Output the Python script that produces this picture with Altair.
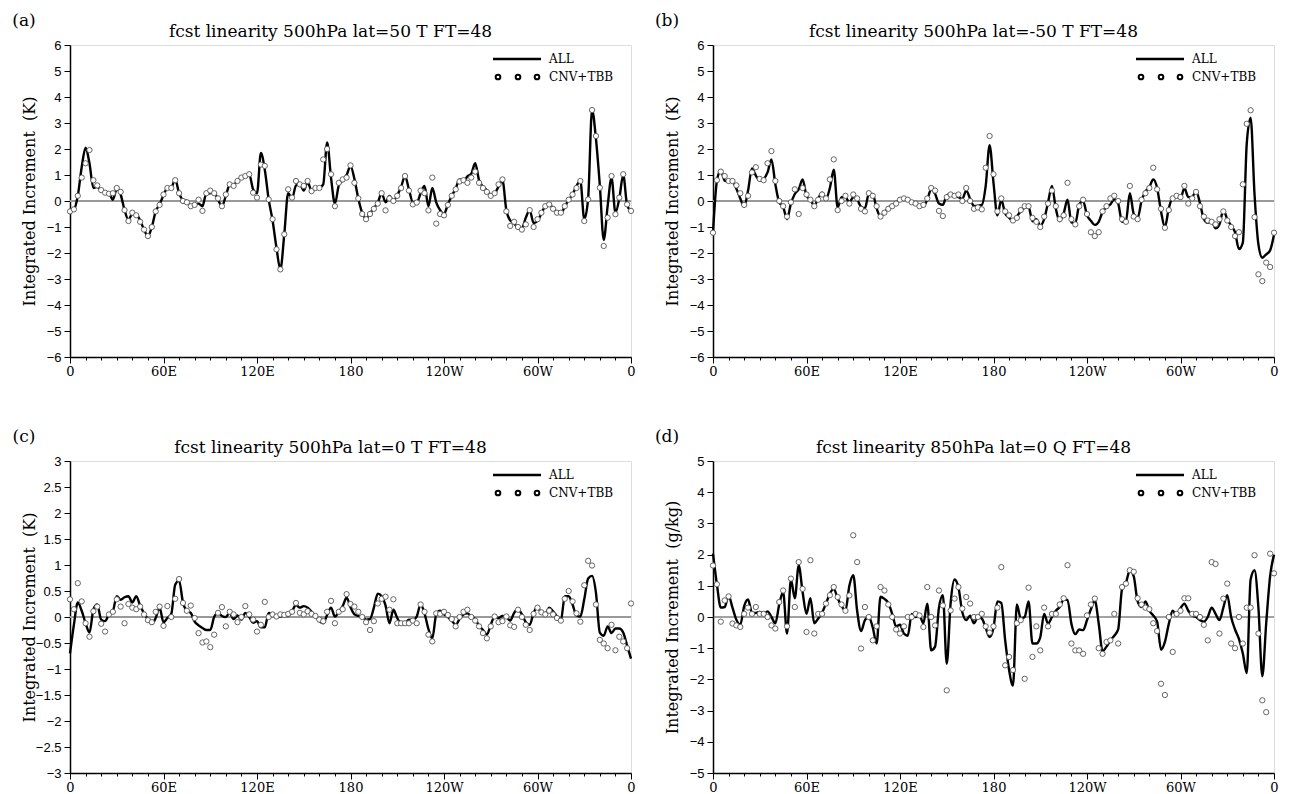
import altair as alt
import pandas as pd

LON = [i * 2.5 for i in range(145)]

A_ALL = [-0.38, -0.33, 0.2, 1.3, 2.05, 1.45, 0.5, 0.55, 0.4, 0.32,
         0.3, 0.05, 0.45, 0.25, -0.35, -0.72, -0.5, -0.52, -0.75, -1.1,
         -1.35, -1.0, -0.4, -0.13, 0.22, 0.5, 0.52, 0.83, 0.3, 0.05,
         0.0, -0.18, -0.14, -0.1, -0.2, 0.3, 0.3, 0.32, 0.05, -0.2,
         0.2, 0.62, 0.62, 0.8, 0.9, 0.95, 1.03, 0.45, 0.3, 1.85,
         1.2, 0.06, -0.75, -1.8, -2.63, -1.28, 0.3, 0.1, 0.6, 0.65,
         0.4, 0.72, 0.4, 0.45, 0.5, 0.64, 2.25, 0.9, -0.1, 0.6,
         0.8, 1.0, 1.35, 0.85, 0.1, -0.45, -0.68, -0.47, -0.28, -0.06,
         0.3, -0.05, 0.19, 0.02, 0.22, 0.55, 0.95, 0.45, -0.05, -0.06,
         0.3, 0.58, -0.2, 0.5, -0.05, -0.35, -0.5, -0.13, 0.2, 0.48,
         0.83, 0.75, 0.95, 1.05, 1.45, 0.8, 0.55, 0.41, 0.25, 0.3,
         0.55, 0.8, -0.35, -0.75, -0.85, -1.05, -1.05, -0.64, -0.35, -0.85,
         -0.77, -0.48, -0.19, -0.1, -0.3, -0.41, -0.47, -0.22, 0.05, 0.25,
         0.58, 0.77, -0.7, 0.1, 3.5, 2.4, 0.6, -1.5, -0.2, 0.9,
         -0.45, 0.1, 1.0, -0.15, -0.4]
A_CNV = [-0.4, -0.32, 0.2, 0.9, 1.45, 1.96, 0.8, 0.6, 0.42, 0.32,
         0.28, 0.3, 0.5, 0.35, -0.35, -0.77, -0.45, -0.55, -0.8, -1.1,
         -1.35, -1.0, -0.4, -0.15, 0.25, 0.5, 0.5, 0.8, 0.3, 0.0,
         -0.05, -0.2, -0.15, 0.05, -0.38, 0.3, 0.4, 0.3, 0.1, -0.2,
         0.25, 0.64, 0.58, 0.77, 0.9, 0.96, 1.03, 0.32, 0.13, 1.4,
         1.35, 0.06, -0.7, -1.86, -2.63, -1.28, 0.45, 0.13, 0.77, 0.64,
         0.58, 0.77, 0.38, 0.5, 0.5, 1.6, 2.0, 1.03, -0.2, 0.7,
         0.83, 0.9, 1.37, 0.7, 0.1, -0.5, -0.7, -0.5, -0.3, -0.1,
         0.3, -0.36, 0.1, 0.0, 0.2, 0.5, 0.96, 0.4, -0.13, -0.06,
         0.4, 0.3, -0.36, 0.9, -0.87, -0.5, -0.55, -0.15, 0.2, 0.45,
         0.75, 0.8, 0.7, 0.9, 1.13, 0.7, 0.5, 0.35, 0.2, 0.3,
         0.64, 0.83, -0.4, -0.96, -0.8, -1.0, -1.1, -0.9, -0.35, -1.0,
         -0.7, -0.45, -0.2, -0.13, -0.3, -0.45, -0.45, -0.2, 0.05, 0.25,
         0.5, 0.77, -0.77, 0.06, 3.5, 2.5, 0.51, -1.73, -0.64, 0.96,
         -0.51, 0.13, 1.03, -0.13, -0.38]

B_ALL = [-1.22, 0.77, 1.18, 0.78, 0.75, 0.74, 0.47, 0.1, -0.22, 0.4,
         1.25, 0.98, 0.78, 0.85, 1.1, 1.6, 0.65, -0.05, -0.22, -0.7,
         -0.1, 0.27, 0.45, 0.83, 0.2, 0.05, -0.17, 0.1, 0.32, 0.08,
         0.5, 1.2, -0.25, 0.15, 0.15, -0.05, 0.15, 0.06, -0.22, -0.28,
         0.28, 0.26, -0.28, -0.6, -0.43, -0.26, -0.15, -0.08, 0.07, 0.1,
         0.04, -0.02, -0.06, -0.18, -0.2, 0.05, 0.45, 0.28, -0.1, -0.15,
         0.22, 0.26, 0.22, 0.15, 0.08, 0.41, 0.08, -0.19, -0.18, -0.15,
         0.58, 2.15, 0.7, -0.55, 0.05, -0.48, -0.64, -0.78, -0.6, -0.38,
         -0.26, -0.22, -0.78, -0.7, -0.95, -0.7, -0.06, 0.58, -0.3, -0.77,
         -0.48, 0.05, -0.82, -0.85, -0.15, 0.0, -0.55, -0.76, -0.92, -0.8,
         -0.42, -0.23, -0.13, 0.07, -0.1, -0.8, -0.75, 0.3, -0.5, -0.65,
         0.0, 0.36, 0.53, 0.83, 0.5, -0.4, -1.0, -0.28, 0.13, 0.15,
         0.1, 0.5, 0.15, 0.16, 0.38, -0.08, -0.7, -0.84, -0.78, -1.05,
         -0.9, -0.35, -0.7, -0.95, -1.2, -1.85, -1.6, 2.2, 3.2, 0.26,
         -1.67, -2.18, -2.05, -1.9, -1.3]
B_CNV = [-1.22, 0.8, 1.13, 0.96, 0.77, 0.77, 0.6, 0.3, -0.15, 0.2,
         1.1, 1.3, 0.85, 0.8, 1.45, 1.92, 0.77, 0.0, -0.2, -0.6,
         -0.05, 0.45, -0.5, 0.5, 0.25, 0.05, -0.2, 0.05, 0.25, 0.1,
         0.83, 1.6, -0.35, 0.0, 0.2, -0.1, 0.25, 0.1, -0.3, -0.4,
         0.3, 0.2, -0.2, -0.6, -0.45, -0.3, -0.2, -0.1, 0.05, 0.1,
         0.05, -0.05, -0.1, -0.2, -0.15, 0.1, 0.5, 0.4, -0.38, -0.58,
         0.15, 0.25, 0.2, 0.25, 0.0, 0.5, 0.0, -0.3, -0.25, -0.32,
         1.28, 2.5, 1.03, -0.4, 0.1, -0.4, -0.55, -0.75, -0.65, -0.35,
         -0.2, -0.2, -0.65, -0.8, -1.0, -0.6, -0.1, 0.4, -0.2, -0.7,
         -0.55, 0.7, -0.7, -0.9, -0.2, 0.05, -0.5, -1.2, -1.35, -1.2,
         -0.4, -0.2, 0.1, 0.2, 0.0, -0.7, -0.8, 0.58, -0.6, -0.7,
         0.05, 0.3, 0.5, 1.28, 0.45, -0.3, -1.03, -0.35, 0.1, 0.2,
         0.15, 0.58, -0.1, 0.1, 0.35, -0.2, -0.6, -0.75, -0.8, -0.9,
         -0.7, -0.4, -0.75, -1.0, -1.35, -1.2, 0.64, 2.97, 3.49, -0.62,
         -2.82, -3.08, -2.37, -2.54, -1.22]

C_ALL = [-0.7, -0.15, 0.28, 0.12, -0.12, -0.3, 0.14, 0.24, -0.05, -0.08,
         0.05, 0.11, 0.4, 0.33, 0.38, 0.4, 0.28, 0.4, 0.22, 0.07,
         -0.04, -0.13, -0.02, 0.18, -0.1, -0.02, 0.06, 0.62, 0.7, 0.28,
         0.12, 0.08, -0.09, -0.16, -0.21, -0.25, -0.25, 0.0, 0.08, 0.02,
         0.0, 0.08, -0.04, 0.03, -0.05, 0.08, 0.0, -0.11, -0.08, -0.2,
         -0.2, 0.08, 0.06, 0.02, 0.01, 0.03, 0.02, 0.11, 0.23, 0.18,
         0.21, 0.18, 0.1, 0.02, -0.08, -0.12, 0.04, 0.18, 0.01, 0.1,
         0.21, 0.37, 0.19, 0.05, 0.02, 0.0, -0.05, -0.04, 0.18, 0.45,
         0.4, 0.22, -0.12, 0.14, -0.02, -0.13, -0.12, -0.05, -0.06, 0.01,
         0.24, 0.07, -0.23, -0.41, 0.05, 0.12, 0.05, 0.0, -0.07, -0.15,
         -0.04, 0.05, 0.07, 0.01, -0.04, -0.17, -0.25, -0.34, -0.15, 0.01,
         -0.02, 0.02, 0.0, -0.07, 0.08, 0.15, 0.05, -0.1, -0.15, 0.08,
         0.2, 0.07, 0.06, 0.18, 0.11, 0.01, -0.07, 0.4, 0.4, 0.24,
         0.03, 0.01, 0.34, 0.74, 0.79, 0.47, -0.3, -0.36, -0.18, -0.31,
         -0.22, -0.22, -0.3, -0.55, -0.8]
C_CNV = [0.34, 0.15, 0.65, 0.3, -0.12, -0.38, 0.11, 0.2, -0.13, -0.28,
         0.05, 0.1, 0.34, 0.2, -0.12, 0.25, 0.18, 0.15, 0.2, 0.05,
         -0.06, -0.1, 0.1, 0.2, -0.17, 0.21, 0.0, 0.35, 0.73, 0.27,
         0.12, 0.22, -0.02, -0.31, -0.49, -0.47, -0.58, -0.34, 0.08, 0.19,
         -0.18, 0.1, 0.05, -0.1, 0.0, 0.21, 0.05, -0.05, -0.28, -0.15,
         0.29, 0.0, 0.05, 0.01, 0.05, 0.04, 0.06, 0.1, 0.27, 0.08,
         0.05, 0.11, 0.06, 0.02, -0.05, -0.08, 0.1, 0.31, -0.12, 0.1,
         0.15, 0.44, 0.25, 0.2, 0.1, 0.0, -0.1, -0.25, -0.08, 0.26,
         0.35, 0.39, 0.14, 0.34, -0.12, -0.12, -0.12, -0.12, -0.07, -0.12,
         0.24, 0.1, -0.34, -0.47, 0.07, 0.06, 0.1, 0.04, -0.04, -0.18,
         0.0, 0.1, 0.14, 0.0, -0.07, -0.18, -0.31, -0.41, -0.18, 0.01,
         -0.1, -0.08, 0.01, -0.16, -0.19, 0.14, 0.0, -0.15, -0.25, 0.06,
         0.18, 0.09, 0.05, 0.12, 0.05, -0.02, -0.07, 0.35, 0.5, 0.3,
         0.07, -0.09, 0.61, 1.08, 0.99, 0.24, -0.44, -0.51, -0.6, -0.15,
         -0.64, -0.38, -0.47, -0.6, 0.26]

D_ALL = [2.03, 1.05, 0.3, 0.32, 0.68, 0.3, -0.09, -0.25, 0.35, 0.56,
         0.14, 0.13, 0.16, 0.1, 0.18, 0.0, -0.2, 0.4, 0.8, -0.53,
         1.2, 0.6, 1.65, 0.8, 0.1, 0.6, -0.2, -0.05, 0.14, 0.43,
         0.75, 0.9, 0.6, 0.35, 0.21, 1.0, 1.34, 0.2, -0.45, -0.1,
         0.0, -0.33, -0.85, 0.65, 0.58, 0.45, 0.1, -0.3, -0.25, -0.53,
         -0.6, 0.1, 0.0, 0.05, -0.2, 0.43, -1.07, -0.95, 0.3, 0.7,
         -1.5, 0.45, 1.2, 0.95, 0.15, -0.1, 0.04, -0.2, 0.0, -0.05,
         -0.35, -0.64, -0.35, 0.5, 0.45, -0.75, -1.7, -2.2, 0.4, -0.05,
         0.0, 0.5, -0.85, -0.85, -0.65, 0.1, -0.21, 0.0, 0.2, 0.32,
         0.55, 0.55, -0.22, -0.55, -0.4, -0.42, -0.1, 0.25, 0.53, -0.2,
         -1.1, -0.95, -0.75, -0.6, -0.4, 0.9, 1.1, 1.5, 1.3, 0.5,
         0.32, 0.5, 0.2, 0.05, -0.15, -1.05, -0.8, -0.22, 0.2, 0.05,
         0.28, 0.43, 0.2, 0.05, 0.0, -0.1, -0.15, 0.0, 0.3, 0.1,
         -0.1, 0.3, 0.7, 0.0, -0.4, -0.7, -1.17, -1.8, 1.2, 1.5,
         0.3, -1.9, -0.2, 1.3, 2.0]
D_CNV = [1.65, 1.05, -0.15, 0.53, 0.66, -0.21, -0.27, -0.32, 0.1, 0.3,
         0.1, 0.32, 0.1, 0.1, 0.0, -0.27, -0.37, 0.48, 0.85, -0.3,
         1.23, 0.32, 1.76, 0.9, -0.48, 1.82, -0.53, 0.1, 0.1, 0.43,
         0.7, 0.96, 0.64, 0.4, 0.2, 0.69, 2.62, 1.76, -1.01, 0.32,
         0.0, -0.75, -0.3, 0.96, 0.85, 0.4, 0.0, -0.4, -0.53, -0.3,
         0.0, 0.0, 0.1, 0.05, -0.32, 0.96, 0.0, -0.27, 0.85, 0.37,
         -2.35, 0.21, 0.59, 0.96, 0.27, 0.64, 0.43, 0.0, 0.0, 0.1,
         -0.3, -0.5, -0.3, 0.3, 1.6, -1.55, -1.28, -1.7, -0.2, -0.1,
         -1.98, 0.94, -1.28, -0.3, -1.07, 0.3, -0.3, 0.1, 0.1, 0.4,
         0.6, 1.66, -0.85, -1.07, -1.07, -1.18, 0.05, 0.4, 0.59, -1.0,
         -1.18, -0.8, -0.75, 0.1, -0.85, 0.96, 1.07, 1.5, 1.45, 0.6,
         0.4, 0.3, 0.25, -0.2, -0.45, -2.14, -2.5, 0.0, -1.12, 0.1,
         0.2, 0.6, 0.6, 0.1, 0.1, 0.0, -0.25, -0.75, 1.76, 1.7,
         -0.53, 0.59, 1.07, -0.85, -1.0, 0.0, -0.85, 0.3, 0.3, 1.98,
         -0.53, -2.67, -3.05, 2.03, 1.4]

YT_AB = [-6, -5, -4, -3, -2, -1, 0, 1, 2, 3, 4, 5, 6]
YT_C = [-3, -2.5, -2, -1.5, -1, -0.5, 0, 0.5, 1, 1.5, 2, 2.5, 3]
YT_D = [-5, -4, -3, -2, -1, 0, 1, 2, 3, 4, 5]
XT = list(range(0, 361, 10))

TITLES = ["fcst linearity 500hPa lat=50 T FT=48",
          "fcst linearity 500hPa lat=-50 T FT=48",
          "fcst linearity 500hPa lat=0 T FT=48",
          "fcst linearity 850hPa lat=0 Q FT=48"]
TAGS = ["(a)", "(b)", "(c)", "(d)"]
UNITS = ["(K)", "(K)", "(K)", "(g/kg)"]

W, H = 561, 312
SERIF = "DejaVu Serif"
SANS = "Liberation Sans"

LON_EXPR = ("datum.value % 60 !== 0 ? '' : (datum.value === 0 || datum.value === 360) ? '0' : "
            "datum.value < 180 ? datum.value + 'E' : datum.value === 180 ? '180' : (360 - datum.value) + 'W'")


def panel(tag, title, unit, dom, yticks, all_vals, cnv_vals, zero_color, zero_w):
    df_all = pd.DataFrame({"lon": LON, "v": all_vals})
    df_cnv = pd.DataFrame({"lon": LON, "v": cnv_vals})
    df_zero = pd.DataFrame({"lon": [0.0, 360.0], "v": [0.0, 0.0]})
    one = pd.DataFrame({"k": [0]})
    yscale = alt.Scale(domain=dom, nice=False, zero=False)
    x = alt.X("lon:Q", scale=alt.Scale(domain=[0, 360], nice=False, zero=False),
              axis=alt.Axis(values=XT, labelExpr=LON_EXPR, title=None, grid=False,
                            tickSize={"condition": {"test": "datum.value % 60 === 0", "value": 6}, "value": 3},
                            labelFont=SERIF, labelFontSize=13, labelColor="black",
                            tickColor="black", domainColor="black", domainWidth=1.5,
                            labelPadding=2, labelFlush=False, labelOverlap=False, labelBound=False))
    y = alt.Y("v:Q", scale=yscale,
              axis=alt.Axis(values=yticks, format="~g", grid=False,
                            title="Integrated Increment\u00a0\u00a0" + unit,
                            titleFont=SERIF, titleFontSize=16, titleFontWeight="normal",
                            titleColor="black", titleX=-33, titleY=H / 2, titleAngle=270,
                            titleAlign="center", titleBaseline="bottom",
                            labelFont=SANS, labelFontSize=13, labelColor="black",
                            tickSize=6, tickColor="black", domainColor="black", domainWidth=1.5,
                            labelPadding=3, labelOverlap=False))
    zero = alt.Chart(df_zero).mark_line(color=zero_color, strokeWidth=zero_w).encode(x=x, y=y)
    line = alt.Chart(df_all).mark_line(color="black", strokeWidth=2.4, interpolate="monotone").encode(x=x, y=y)
    pts = alt.Chart(df_cnv).mark_point(shape="circle", filled=True, fill="white", stroke="#555555",
                                       strokeWidth=0.9, size=28, opacity=1).encode(x=x, y=y)
    leg = [
        alt.Chart(one).mark_rule(color="black", strokeWidth=2.4).encode(
            x=alt.value(W - 138), x2=alt.value(W - 90), y=alt.value(14)),
        alt.Chart(one).mark_text(text="ALL", font=SERIF, fontSize=12, align="left", baseline="middle").encode(
            x=alt.value(W - 82), y=alt.value(14)),
        alt.Chart(one).mark_text(text="CNV+TBB", font=SERIF, fontSize=12, align="left", baseline="middle").encode(
            x=alt.value(W - 82), y=alt.value(32)),
    ]
    for dx in (133, 113, 94):
        leg.append(alt.Chart(one).mark_point(shape="circle", filled=True, fill="white", stroke="black",
                                             strokeWidth=2, size=22, opacity=1).encode(
            x=alt.value(W - dx), y=alt.value(32)))
    tag_t = alt.Chart(one).mark_text(text=tag, font=SERIF, fontSize=17, align="center", baseline="middle").encode(
        x=alt.value(-46), y=alt.value(-24))
    title_t = alt.Chart(one).mark_text(text=title, font=SERIF, fontSize=17, align="center",
                                       baseline="alphabetic").encode(x=alt.value(W / 2 - 20), y=alt.value(-8))
    return alt.layer(zero, line, pts, *leg, tag_t, title_t).properties(width=W, height=H)


pa = panel(TAGS[0], TITLES[0], UNITS[0], [-6, 6], YT_AB, A_ALL, A_CNV, "#999999", 1.8)
pb = panel(TAGS[1], TITLES[1], UNITS[1], [-6, 6], YT_AB, B_ALL, B_CNV, "#999999", 1.8)
pc = panel(TAGS[2], TITLES[2], UNITS[2], [-3, 3], YT_C, C_ALL, C_CNV, "#999999", 1.8)
pd_ = panel(TAGS[3], TITLES[3], UNITS[3], [-5, 5], YT_D, D_ALL, D_CNV, "#444444", 1.0)

chart = alt.concat(pa, pb, pc, pd_, columns=2, spacing={"row": 104, "column": 82}, bounds="flush").properties(
    padding={"left": 3, "top": 3, "right": 0, "bottom": 0}
).configure_view(stroke="black", strokeWidth=1.5).configure(background="white")

chart.save("out.html", embed_options={"renderer": "svg", "actions": False})
